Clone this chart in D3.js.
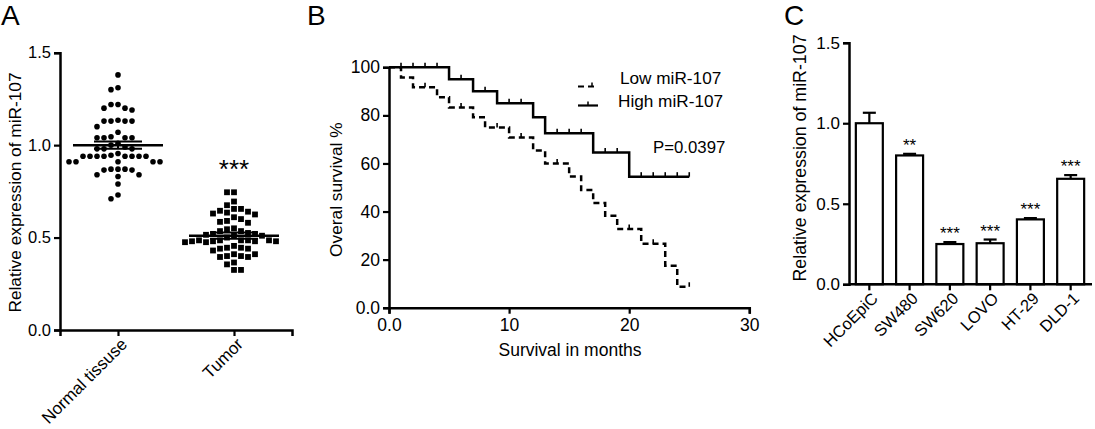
<!DOCTYPE html>
<html>
<head>
<meta charset="utf-8">
<script src="https://cdn.jsdelivr.net/npm/d3@7"></script>
<style>
  html, body { margin: 0; padding: 0; background: #fff; }
  svg { display: block; font-family: "Liberation Sans", Arial, sans-serif; }
</style>
</head>
<body>
<svg id="chart" width="1095" height="429"></svg>
<script>
// ---------- Panel A data ----------
const groupsA = ["Normal tissuse", "Tumor"];
const normalValues = [1.38, 1.31, 1.30, 1.22, 1.20, 1.19, 1.20, 1.22,
  1.13, 1.13, 1.135, 1.13, 1.13, 1.10, 1.07,
  1.04, 1.04, 1.045, 1.04, 1.04, 1.01, 1.0, 0.99,
  0.98, 0.98, 0.98,
  0.94, 0.94, 0.94, 0.94, 0.94, 0.94, 0.94, 0.94, 0.945, 0.955,
  0.91, 0.91, 0.91, 0.91, 0.91,
  0.87, 0.87, 0.865, 0.87, 0.865,
  0.83, 0.84, 0.84, 0.79, 0.71, 0.73];
const tumorValues = [0.745, 0.745, 0.695, 0.675,
  0.655, 0.64, 0.635, 0.625, 0.63, 0.645, 0.655,
  0.60, 0.585, 0.58, 0.59, 0.61,
  0.55, 0.535, 0.535, 0.525, 0.545,
  0.52, 0.52, 0.515, 0.51, 0.51, 0.50,
  0.485, 0.485, 0.48, 0.475, 0.48, 0.48, 0.48, 0.475, 0.485, 0.485, 0.485,
  0.455, 0.445, 0.44, 0.44, 0.445, 0.43,
  0.41, 0.40, 0.395, 0.395, 0.40, 0.41,
  0.365, 0.355, 0.325, 0.325];
const meansA = [1.0, 0.51];
const semA = [0.02, 0.017];
const ticksA = [0, 0.5, 1.0, 1.5];

// ---------- Panel B data ----------
const highTimes = [0, 5, 7, 9, 12, 13, 17, 20];
const highSurv = [100, 95, 90, 85, 79.2, 72.6, 64.6, 54.5];
const highCensor = [1, 2, 3, 4, 6, 8, 10, 11, 14, 15, 16, 18, 19, 21, 22, 23, 24, 25];
const lowTimes = [0, 1, 2, 4, 5, 7, 8, 10, 12, 13, 15, 16, 17, 18, 19, 21, 23, 24];
const lowSurv = [100, 95.8, 91.7, 87.5, 83.3, 79.2, 75, 70.8, 65.4, 60, 54.6, 49, 43.6, 38.2, 32.7, 26.6, 17.5, 8.7];
const lowCensor = [3, 6, 9, 11, 14, 20, 22, 25];
const endTime = 25;
const xTicksB = [0, 10, 20, 30];
const yTicksB = [0, 20, 40, 60, 80, 100];

// ---------- Panel C data ----------
const cells = ["HCoEpiC", "SW480", "SW620", "LOVO", "HT-29", "DLD-1"];
const cellMeans = [1.0, 0.80, 0.25, 0.255, 0.403, 0.655];
const cellErr = [0.065, 0.01, 0.012, 0.023, 0.008, 0.023];
const cellSig = ["", "**", "***", "***", "***", "***"];
const ticksC = [0, 0.5, 1.0, 1.5];

const svg = d3.select("#chart");
const fmt = d => d === 0 ? "0.0" : d3.format(".1f")(d);

function styleAxis(g, fs) {
  g.selectAll("path.domain").attr("stroke", "#000").attr("stroke-width", 2.5);
  g.selectAll(".tick line").attr("stroke", "#000").attr("stroke-width", 2.2);
  g.selectAll(".tick text").attr("fill", "#000").attr("font-size", fs)
    .attr("font-family", "'Liberation Sans', Arial, sans-serif");
}

// ================= Panel A =================
(function () {
  const y = d3.scaleLinear().domain([0, 1.5]).range([330, 52.7]);
  const x = d3.scalePoint().domain(groupsA).range([60, 292]).padding(0.5);
  const g = svg.append("g");

  g.append("text").attr("x", 1).attr("y", 25).attr("font-size", 28).text("A");

  const ya = g.append("g").attr("transform", "translate(60,0)")
    .call(d3.axisLeft(y).tickValues(ticksA).tickFormat(fmt).tickSizeOuter(0).tickSize(6).tickPadding(3));
  styleAxis(ya, 16.5);
  const xa = g.append("g").attr("transform", "translate(0,330)")
    .call(d3.axisBottom(x).tickSizeOuter(0).tickSize(6).tickPadding(8));
  styleAxis(xa, 17);
  xa.selectAll(".tick text").attr("text-anchor", "end")
    .attr("transform", "translate(4,4) rotate(-45)").attr("dy", "0.35em").attr("y", 6).attr("x", -4);

  g.append("text").attr("transform", "translate(20.5,192.5) rotate(-90)")
    .attr("text-anchor", "middle").attr("font-size", 17.3).text("Relative expression of miR-107");

  // simple beeswarm layout
  function swarm(values, cx, d) {
    const placed = [];
    const sorted = values.map(v => ({ v, py: y(v) })).sort((a, b) => a.py - b.py);
    sorted.forEach(p => {
      for (let k = 0; k < 40; k++) {
        const off = (k % 2 === 0 ? 1 : -1) * Math.ceil(k / 2) * d;
        const px = cx + off;
        const ok = placed.every(q => Math.hypot(q.px - px, q.py - p.py) >= d * 0.98);
        if (ok) { p.px = px; placed.push(p); break; }
      }
    });
    return placed;
  }
  const nPts = swarm(normalValues, x(groupsA[0]), 7);
  g.selectAll("circle.n").data(nPts).join("circle")
    .attr("cx", d => d.px).attr("cy", d => d.py).attr("r", 2.8).attr("fill", "#000");
  const tPts = swarm(tumorValues, x(groupsA[1]), 7);
  g.selectAll("rect.t").data(tPts).join("rect")
    .attr("x", d => d.px - 2.9).attr("y", d => d.py - 2.9).attr("width", 5.8).attr("height", 5.8).attr("fill", "#000");

  // mean & SEM lines
  groupsA.forEach((grp, i) => {
    const cx = x(grp);
    g.append("line").attr("x1", cx - 45).attr("x2", cx + 45)
      .attr("y1", y(meansA[i])).attr("y2", y(meansA[i])).attr("stroke", "#000").attr("stroke-width", 2.5);
    [1, -1].forEach(s => {
      g.append("line").attr("x1", cx - 24).attr("x2", cx + 24)
        .attr("y1", y(meansA[i] + s * semA[i])).attr("y2", y(meansA[i] + s * semA[i]))
        .attr("stroke", "#000").attr("stroke-width", 2);
    });
    g.append("line").attr("x1", cx).attr("x2", cx)
      .attr("y1", y(meansA[i] + semA[i])).attr("y2", y(meansA[i] - semA[i]))
      .attr("stroke", "#000").attr("stroke-width", 2);
  });

  g.append("text").attr("x", x(groupsA[1])).attr("y", 178).attr("text-anchor", "middle")
    .attr("font-size", 26).text("***");
})();

// ================= Panel B =================
(function () {
  const x = d3.scaleLinear().domain([0, 30]).range([389, 749.3]);
  const y = d3.scaleLinear().domain([0, 100]).range([307.7, 67.3]);
  const g = svg.append("g");

  g.append("text").attr("x", 307).attr("y", 25).attr("font-size", 28).text("B");

  const ya = g.append("g").attr("transform", "translate(389,0)")
    .call(d3.axisLeft(y).tickValues(yTicksB).tickFormat(d => d === 0 ? "0.0" : d).tickSizeOuter(0).tickSize(6).tickPadding(3));
  styleAxis(ya, 17.5);
  const xa = g.append("g").attr("transform", "translate(0,307.7)")
    .call(d3.axisBottom(x).tickValues(xTicksB).tickFormat(d => d === 0 ? "0.0" : d).tickSizeOuter(0).tickSize(6).tickPadding(5));
  styleAxis(xa, 17.5);

  g.append("text").attr("transform", "translate(341.5,189.7) rotate(-90)")
    .attr("text-anchor", "middle").attr("font-size", 17.3).text("Overal survival %");
  g.append("text").attr("x", 570).attr("y", 356).attr("text-anchor", "middle")
    .attr("font-size", 17.5).text("Survival in months");

  const line = d3.line().x(d => x(d[0])).y(d => y(d[1])).curve(d3.curveStepAfter);
  function survAt(times, surv, t) {
    const i = d3.bisectRight(times, t) - 1;
    return surv[Math.max(0, i)];
  }
  function drawCurve(times, surv, censor, dashed) {
    const pts = times.map((t, i) => [t, surv[i]]);
    pts.push([endTime, surv[surv.length - 1]]);
    g.append("path").attr("d", line(pts)).attr("fill", "none").attr("stroke", "#000")
      .attr("stroke-width", 2.5).attr("stroke-dasharray", dashed ? "6,4" : null);
    censor.forEach(t => {
      const s = survAt(times, surv, t);
      g.append("line").attr("x1", x(t)).attr("x2", x(t)).attr("y1", y(s)).attr("y2", y(s) - 4.5)
        .attr("stroke", "#000").attr("stroke-width", 1.6);
    });
  }
  drawCurve(lowTimes, lowSurv, lowCensor, true);
  drawCurve(highTimes, highSurv, highCensor, false);

  // legend
  const lg = g.append("g");
  lg.append("line").attr("x1", 578).attr("x2", 598).attr("y1", 86.5).attr("y2", 86.5)
    .attr("stroke", "#000").attr("stroke-width", 2.2).attr("stroke-dasharray", "6,4");
  lg.append("line").attr("x1", 592).attr("x2", 592).attr("y1", 86.5).attr("y2", 82.5).attr("stroke", "#000").attr("stroke-width", 1.5);
  lg.append("line").attr("x1", 578).attr("x2", 598).attr("y1", 105.5).attr("y2", 105.5)
    .attr("stroke", "#000").attr("stroke-width", 2.2);
  lg.append("line").attr("x1", 588).attr("x2", 588).attr("y1", 105.5).attr("y2", 101.5).attr("stroke", "#000").attr("stroke-width", 1.5);
  lg.append("text").attr("x", 620).attr("y", 83.5).attr("font-size", 17.2).text("Low miR-107");
  lg.append("text").attr("x", 618).attr("y", 106.5).attr("font-size", 17.2).text("High miR-107");
  lg.append("text").attr("x", 653).attr("y", 152.5).attr("font-size", 16.8).text("P=0.0397");
})();

// ================= Panel C =================
(function () {
  const y = d3.scaleLinear().domain([0, 1.5]).range([284.3, 42.7]);
  const x = d3.scaleBand().domain(cells).range([849, 1091]).paddingInner(0.33).paddingOuter(0.17);
  const g = svg.append("g");

  g.append("text").attr("x", 784).attr("y", 25).attr("font-size", 28).text("C");

  g.selectAll("line.err").data(cells).join("line")
    .attr("x1", d => x(d) + x.bandwidth() / 2).attr("x2", d => x(d) + x.bandwidth() / 2)
    .attr("y1", (d, i) => y(cellMeans[i])).attr("y2", (d, i) => y(cellMeans[i] + cellErr[i]))
    .attr("stroke", "#000").attr("stroke-width", 2.2);
  g.selectAll("line.cap").data(cells).join("line")
    .attr("x1", d => x(d) + x.bandwidth() / 2 - 6.5).attr("x2", d => x(d) + x.bandwidth() / 2 + 6.5)
    .attr("y1", (d, i) => y(cellMeans[i] + cellErr[i])).attr("y2", (d, i) => y(cellMeans[i] + cellErr[i]))
    .attr("stroke", "#000").attr("stroke-width", 2.2);
  g.selectAll("rect.bar").data(cells).join("rect")
    .attr("x", d => x(d)).attr("width", x.bandwidth())
    .attr("y", (d, i) => y(cellMeans[i])).attr("height", (d, i) => y(0) - y(cellMeans[i]))
    .attr("fill", "#fff").attr("stroke", "#000").attr("stroke-width", 2.2);

  g.selectAll("text.sig").data(cells).join("text")
    .attr("x", d => x(d) + x.bandwidth() / 2)
    .attr("y", (d, i) => y(cellMeans[i] + cellErr[i]) - 3)
    .attr("text-anchor", "middle").attr("font-size", 17)
    .text((d, i) => cellSig[i]);

  const ya = g.append("g").attr("transform", "translate(849,0)")
    .call(d3.axisLeft(y).tickValues(ticksC).tickFormat(fmt).tickSizeOuter(0).tickSize(6).tickPadding(3));
  styleAxis(ya, 17);
  const xa = g.append("g").attr("transform", "translate(0,284.3)")
    .call(d3.axisBottom(x).tickSizeOuter(0).tickSize(6).tickPadding(8));
  styleAxis(xa, 16.5);
  xa.select("path.domain").attr("d", "M849,0H1092");
  xa.selectAll(".tick text").attr("text-anchor", "end")
    .attr("transform", "translate(4,4) rotate(-45)").attr("dy", "0.35em").attr("y", 6).attr("x", -4);

  g.append("text").attr("transform", "translate(805.5,158) rotate(-90)")
    .attr("text-anchor", "middle").attr("font-size", 17.8).text("Relative expression of miR-107");
})();
</script>
</body>
</html>
